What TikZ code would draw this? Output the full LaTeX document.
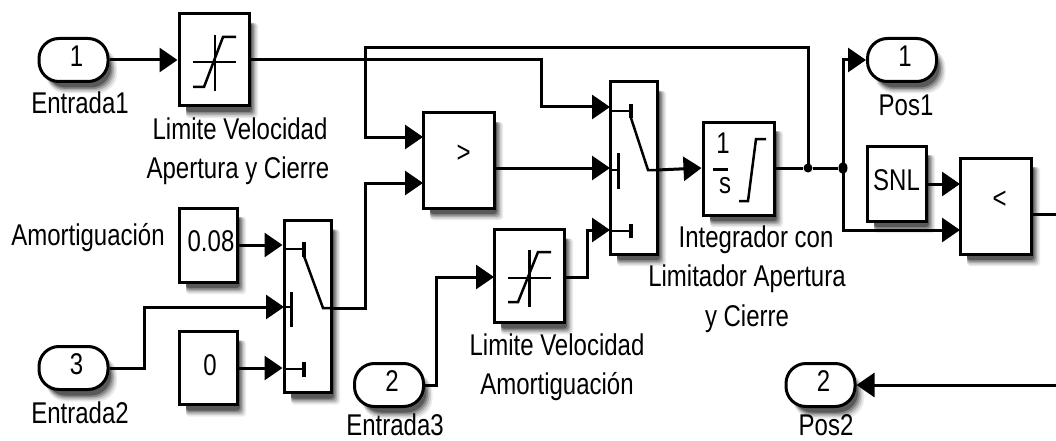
\documentclass[tikz,border=0pt]{standalone}
\usepackage{fontspec}
\setmainfont[FakeStretch=0.80]{Liberation Sans}
\usetikzlibrary{arrows.meta,shapes.geometric,backgrounds}
\tikzset{
  blk/.style={draw=black,fill=white,line width=3pt,inner sep=0pt,font=\fontsize{30}{32}\selectfont},
  port/.style={blk,rounded corners=20pt,minimum width=69pt,minimum height=43pt},
  lbl/.style={inner sep=0pt,align=center,font=\fontsize{30}{39.5}\selectfont},
  wire/.style={draw=black,line width=3pt,line join=miter,-{Triangle[length=18pt,width=24pt]}},
  plainwire/.style={draw=black,line width=3pt},
  icon/.style={draw=black,line width=2.5pt},
  dot/.style={ellipse,fill=black,inner sep=0pt,minimum width=9pt,minimum height=9pt},
}
\begin{document}
\begin{tikzpicture}[x=1pt,y=-1pt]
\useasboundingbox (0,0) rectangle (1056,441);

% drop shadows: positions come from the same centres and sizes as the blocks
\newcommand{\softshadow}[5]{% cx, cy, w, h, radius
  \foreach \ex/\ey/\g in {9/12/8,7.5/10.5/18,6/9/32,4.5/7.5/48,3/6/65}
    \fill[black!\g,rounded corners=#5pt]
      (#1-#3/2+7,#2-#4/2+9) rectangle (#1+#3/2+\ex,#2+#4/2+\ey);
}
\softshadow{73.5}{60}{69}{43}{20}
\softshadow{73.5}{368}{69}{43}{20}
\softshadow{389}{385}{69}{43}{20}
\softshadow{902}{60}{69}{43}{20}
\softshadow{820.5}{385}{69}{43}{20}
\softshadow{214}{60}{70}{92}{3}
\softshadow{529}{276}{70}{93}{3}
\softshadow{208}{245}{58}{74}{3}
\softshadow{208}{368}{58}{73}{3}
\softshadow{307.5}{306.5}{47}{172}{3}
\softshadow{633.5}{168}{47}{172}{3}
\softshadow{458.5}{160.5}{71}{95}{3}
\softshadow{738.5}{168.5}{71}{93}{3}
\softshadow{896.5}{183.5}{59}{75}{3}
\softshadow{995.5}{206}{71}{96}{3}

% ports
\node[port] (in1) at (73.5,60) {\raisebox{7pt}{\hspace*{6pt}1}};
\node[port] (in3) at (73.5,368) {\raisebox{7pt}{\hspace*{6pt}3}};
\node[port] (in2) at (389,385) {\raisebox{7pt}{\hspace*{6pt}2}};
\node[port] (out1) at (902,60) {\raisebox{7pt}{\hspace*{6pt}1}};
\node[port] (out2) at (820.5,385) {\raisebox{7pt}{\hspace*{6pt}2}};

% blocks
\node[blk,minimum width=70pt,minimum height=92pt] (sat1) at (214,60) {};
\node[blk,minimum width=70pt,minimum height=93pt] (sat2) at (529,276) {};
\node[blk,minimum width=58pt,minimum height=74pt] (k08) at (208,245) {\raisebox{7pt}{\hspace*{6pt}0.08}};
\node[blk,minimum width=58pt,minimum height=73pt] (k0) at (208,368) {\raisebox{6pt}{\hspace*{4pt}0}};
\node[blk,minimum width=47pt,minimum height=172pt] (sw1) at (307.5,306.5) {};
\node[blk,minimum width=47pt,minimum height=172pt] (sw2) at (633.5,168) {};
\node[blk,minimum width=71pt,minimum height=95pt] (cmp1) at (458.5,160.5) {\raisebox{13pt}{\hspace*{10pt}>}};
\node[blk,minimum width=71pt,minimum height=93pt] (int) at (738.5,168.5) {};
\node[blk,minimum width=59pt,minimum height=75pt] (snl) at (896.5,183.5) {\raisebox{6pt}{SNL}};
\node[blk,minimum width=71pt,minimum height=96pt] (cmp2) at (995.5,206) {\raisebox{13pt}{\hspace*{8pt}<}};

% port coordinates
\coordinate (sw1a) at (sw1.west |- k08.east);
\coordinate (sw1b) at (284,307);
\coordinate (sw1c) at (sw1.west |- k0.east);
\coordinate (sw1o) at (331,308);
\coordinate (sw2a) at (610,107);
\coordinate (sw2b) at (610,168);
\coordinate (sw2c) at (610,230);
\coordinate (sw2o) at (657,170);
\coordinate (int-in) at (int.west |- sw2b);
\coordinate (cmp1a) at (423,137);
\coordinate (cmp1b) at (423,183);
\coordinate (cmp1o) at (494,168);
\coordinate (cmp2a) at (960,184);
\coordinate (cmp2b) at (960,230);
\coordinate (cmp2o) at (1031,214);
\coordinate (right1) at (1056,214);
\coordinate (right2) at (1056,385);
\coordinate (sat2in) at (494,277);
\coordinate (sat2out) at (564,277);
\coordinate (intout) at (774,168);
\coordinate (snlout) at (926,184);

% junctions
\node[dot] (j1) at (808,168) {};
\node[dot,minimum height=12pt] (j2) at (843,168) {};

% connectors
\draw[wire] (in1.east) -- (sat1.west);
\draw[wire] (sat1.east) -- (541,60) -- (541,107) -- (sw2a);
\draw[wire] (k08.east) -- (sw1a);
\draw[wire] (in3.east) -- (144,368) -- (144,307) -- (sw1b);
\draw[wire] (k0.east) -- (sw1c);
\draw[wire] (sw1o) -- (365,308) -- (365,183) -- (cmp1b);
\draw[wire] (cmp1o) -- (sw2b);
\draw[wire] (sat2out) -- (587,277) -- (587,230) -- (sw2c);
\draw[wire] (in2.east) -- (436,385) -- (436,277) -- (sat2in);
\draw[wire] (sw2o) -- (int-in);
\draw[plainwire] (intout) -- (j1) -- (j2);
\draw[wire] (j1.center) -- (808,48) -- (365,48) -- (365,137) -- (cmp1a);
\draw[wire] (j2.center) -- (843,60) -- (out1.west);
\draw[wire] (j2.center) -- (843,230) -- (cmp2b);
\draw[wire] (snlout) -- (cmp2a);
\draw[plainwire] (cmp2o) -- (right1);
\draw[wire] (right2) -- (out2.east);

% saturation icons
\draw[icon] (215,35) -- (215,91);
\draw[icon] (193,62) -- (236,62);
\draw[icon] (193,87) -- (204,87) -- (223,37) -- (236,37);
\draw[icon] (529.5,250) -- (529.5,307);
\draw[icon] (508,278) -- (551,278);
\draw[icon] (508,302) -- (518,302) -- (538,252) -- (551,252);

% switch icons
\draw[icon] (284,249) -- (304,249);
\draw[icon,line width=4pt] (304,242) -- (304,257);
\draw[icon] (284,307) -- (291,307);
\draw[icon] (291.5,292) -- (291.5,327);
\draw[icon] (284,369) -- (304,369);
\draw[icon,line width=4pt] (304,362) -- (304,377);
\draw[icon] (304,256) -- (323,308) -- (331,308);
\draw[icon] (610,111) -- (631,111);
\draw[icon,line width=4pt] (631,104) -- (631,118);
\draw[icon] (610,170) -- (618,170);
\draw[icon] (618.5,153) -- (618.5,189);
\draw[icon] (610,231) -- (631,231);
\draw[icon,line width=4pt] (631,224) -- (631,238);
\draw[icon] (631,118) -- (648,170) -- (657,170);

% integrator icon
\node[inner sep=0pt,font=\fontsize{30}{32}\selectfont] (intnum) at (723,143) {1};
\draw[icon,line width=3pt] (713,169) -- (728,169);
\node[inner sep=0pt,font=\fontsize{30}{32}\selectfont] (intden) at (725,186) {s};
\draw[icon] (739,201) -- (748,201) -- (756,139) -- (766,139);

% labels
\node[lbl] (l1) at (80,103) {Entrada1};
\node[lbl] (l2) at (238,151) {\hspace*{4pt}Limite Velocidad\\Apertura y Cierre};
\node[lbl] (l3) at (88,238) {Amortiguación};
\node[lbl] (l4) at (80,413) {Entrada2};
\node[lbl] (l5) at (395,425) {Entrada3};
\node[lbl] (l6) at (557,367) {Limite Velocidad\\Amortiguación};
\node[lbl] (l7) at (747,279) {\hspace*{18pt}Integrador con\\Limitador Apertura\\y Cierre};
\node[lbl] (l8) at (906,105) {Pos1};
\node[lbl] (l9) at (826,425) {Pos2};
\end{tikzpicture}
\end{document}
